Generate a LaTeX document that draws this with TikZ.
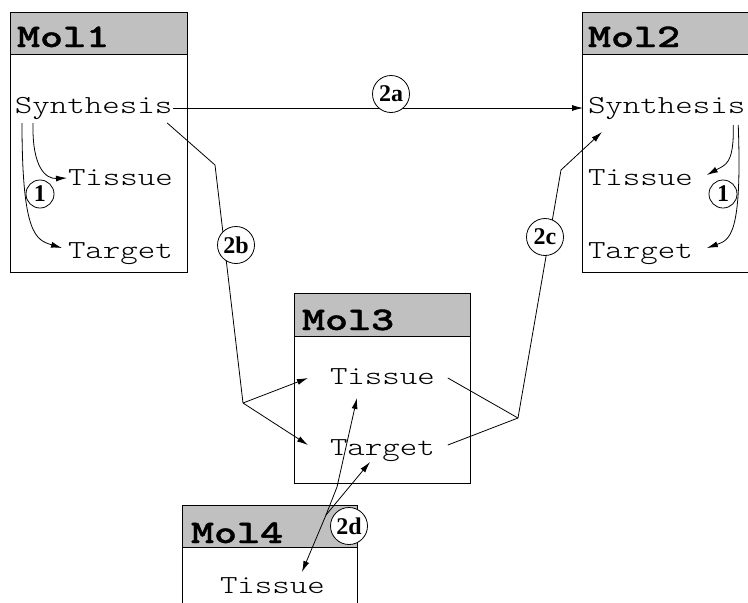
\documentclass[tikz,border=0pt]{standalone}
\usepackage{fontspec}
\newfontfamily\bodyfont{lmmonolt10-regular}[Extension=.otf,FakeStretch=1.28]
\newfontfamily\headfont{lmmonolt10-bold}[Extension=.otf,FakeStretch=1.33,FakeBold=1.2]
\newfontfamily\tagfont{Liberation Serif}
\usetikzlibrary{arrows.meta,calc}
\definecolor{hdr}{RGB}{192,192,192}
\begin{document}
\begin{tikzpicture}[x=1pt,y=-1pt,
  every node/.style={inner sep=0pt,outer sep=0pt},
  molbody/.style={draw,line width=0.9pt,anchor=north west,fill=white},
  molhead/.style={draw,line width=0.9pt,anchor=north west,fill=hdr},
  headtext/.style={anchor=base west,font=\headfont\fontsize{33}{38}\selectfont},
  item/.style={anchor=base west,font=\bodyfont\fontsize{26}{30}\selectfont},
  tag/.style={draw,circle,fill=white,line width=0.8pt,
    font=\tagfont\bfseries\fontsize{24}{28}\selectfont,minimum size=37pt},
  smalltag/.style={tag,minimum size=28pt},
  link/.style={line width=0.8pt},
  arr/.style={link,-{Latex[length=11pt,width=6pt]}}
]
\useasboundingbox (0,0) rectangle (748,603);
\clip (0,0) rectangle (748,603);

% molecule boxes: grey title bar over a white body
\node[molbody,minimum width=177pt,minimum height=218pt] (m1body) at (10,54) {};
\node[molhead,minimum width=177pt,minimum height=42pt] (m1head) at (10,12) {};
\node[molbody,minimum width=190pt,minimum height=218pt] (m2body) at (582,54) {};
\node[molhead,minimum width=190pt,minimum height=42pt] (m2head) at (582,12) {};
\node[molbody,minimum width=176pt,minimum height=147pt] (m3body) at (294,336) {};
\node[molhead,minimum width=176pt,minimum height=43pt] (m3head) at (294,293) {};
\node[molbody,minimum width=175pt,minimum height=80pt] (m4body) at (182,547) {};
\node[molhead,minimum width=175pt,minimum height=42pt] (m4head) at (182,505) {};

% titles
\node[headtext] (t1) at (17,47) {Mol1};
\node[headtext] (t2) at (588,47) {Mol2};
\node[headtext] (t3) at (302,330) {Mol3};
\node[headtext] (t4) at (191,543) {Mol4};

% entries
\node[item] (syn1) at (15,113) {Synthesis};
\node[item] (tis1) at (68,185) {Tissue};
\node[item] (tar1) at (68,258) {Target};
\node[item] (syn2) at (588,113) {Synthesis};
\node[item] (tis2) at (588,185) {Tissue};
\node[item] (tar2) at (588,258) {Target};
\node[item] (tis3) at (330,384) {Tissue};
\node[item] (tar3) at (330,455) {Target};
\node[item] (tis4) at (220,593) {Tissue};

% bends and branch points
\coordinate (b2b) at (215,165);
\coordinate (j2b) at (243,403);
\coordinate (j2c) at (518,418);
\coordinate (b2c) at (561,170);
\coordinate (j2d) at (326,515);
\coordinate (b2d) at (337,487);

% step 1 inside Mol1 and Mol2
\draw[arr] ([shift={(18,10)}]syn1.base west) .. controls ([shift={(17,55)}]syn1.base west) and ([shift={(-22,-6)}]tis1.base west) .. ([shift={(-1,-7)}]tis1.base west);
\draw[arr] ([shift={(7,10)}]syn1.base west) .. controls ([shift={(7,122)}]syn1.base west) and ([shift={(-32,-18)}]tar1.base west) .. ([shift={(-6,-10)}]tar1.base west);
\draw[arr] ([shift={(-12,12)}]syn2.base east) .. controls ([shift={(-11,52)}]syn2.base east) and ([shift={(32,-20)}]tis2.base east) .. ([shift={(14,-10)}]tis2.base east);
\draw[arr] ([shift={(-7,12)}]syn2.base east) .. controls ([shift={(-3,122)}]syn2.base east) and ([shift={(37,-18)}]tar2.base east) .. ([shift={(14,-10)}]tar2.base east);

% 2a
\draw[arr] ([shift={(1,-5)}]syn1.base east) -- ([shift={(-5,-5)}]syn2.base west);
% 2b
\draw[link] ([shift={(-5,10)}]syn1.base east) -- (b2b) -- (j2b);
\draw[arr] (j2b) -- ([shift={(-22,-6)}]tis3.base west);
\draw[arr] (j2b) -- ([shift={(-22,-10)}]tar3.base west);
% 2c
\draw[link] ([shift={(13,-6)}]tis3.base east) -- (j2c);
\draw[link] ([shift={(13,-10)}]tar3.base east) -- (j2c);
\draw[arr] (j2c) -- (b2c) -- ([shift={(14,19)}]syn2.base west);
% 2d
\draw[arr] (j2d) -- ([shift={(82,-21)}]tis4.base west);
\draw[arr] (j2d) -- (b2d) -- ([shift={(27,14)}]tis3.base west);
\draw[arr] (j2d) -- ([shift={(40,7)}]tar3.base west);

% step tags
\node[smalltag] (s1a) at (40,194) {1};
\node[smalltag] (s1b) at (723,194) {1};
\node[tag] (s2a) at (391,94) {2a};
\node[tag] (s2b) at (236,245) {2b};
\node[tag] (s2c) at (545,237) {2c};
\node[tag] (s2d) at (349,526) {2d};
\end{tikzpicture}
\end{document}
